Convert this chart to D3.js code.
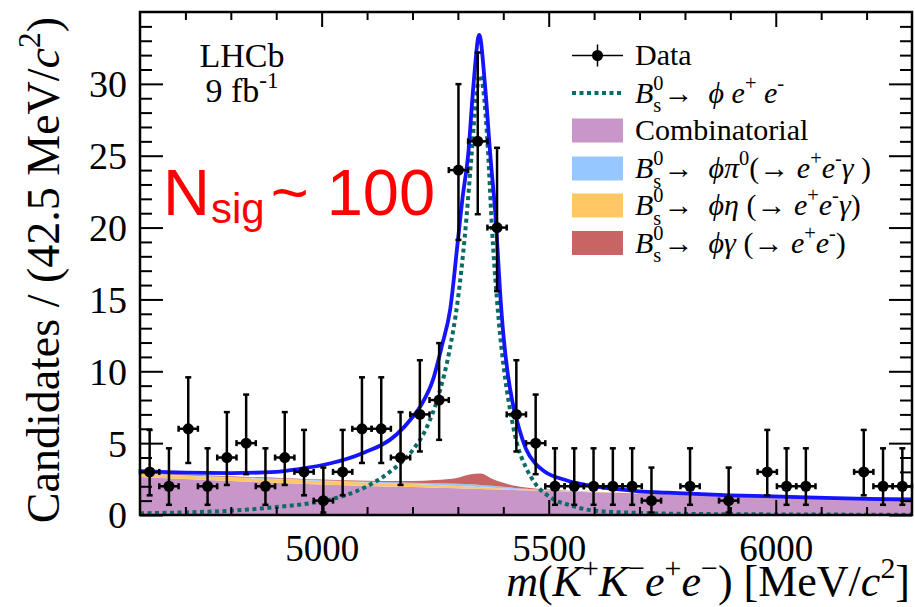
<!DOCTYPE html>
<html><head><meta charset="utf-8">
<script src="https://cdn.jsdelivr.net/npm/d3@7"></script>
<style>body{margin:0;background:#fff} svg{display:block}</style>
</head><body><svg id="c" width="915" height="607"></svg>
<script>
// ---------------- DATA ----------------
const massRange = [4600, 6300];
const binWidth = 42.5;
const yDomain = [0, 35];
const counts = [3,2,6,2,4,5,2,4,3,1, 3,6,6,4,7,8,24,26,20,7, 5,2,2,2,2,2,1,0,2,0, 1,0,3,2,2,0,0,3,2,2];
const errLo  = [1.63,1.29,2.38,1.29,1.91,2.16,1.29,1.91,1.63,0.83, 1.63,2.38,2.38,1.91,2.58,2.77,4.86,5.07,4.43,2.58, 2.16,1.29,1.29,1.29,1.29,1.29,0.83,0,1.29,0, 0.83,0,1.63,1.29,1.29,0,0,1.63,1.29,1.29];
const errHi  = [2.92,2.64,3.58,2.64,3.16,3.38,2.64,3.16,2.92,2.30, 2.92,3.58,3.58,3.16,3.77,3.96,5.98,6.18,5.55,3.77, 3.38,2.64,2.64,2.64,2.64,2.64,2.30,0,2.64,0, 2.30,0,2.92,2.64,2.64,0,0,2.92,2.64,2.64];

const xMajorTicks = [5000, 5500, 6000];
const xMinorTicks = [4700,4800,4900,5100,5200,5300,5400,5600,5700,5800,5900,6100,6200];
const yMajorTicks = [0, 5, 10, 15, 20, 25, 30];
const yMinorTicks = [1,2,3,4,6,7,8,9,11,12,13,14,16,17,18,19,21,22,23,24,26,27,28,29,31,32,33,34];

// signal (dotted) curve
const sigMass = [4600,4700,4800,4900,4980,5050,5100,5150,5200,5230,5260,5280,5300,5315,5330,5340,5348,5356,5366,5375,5386,5400,5415,5430,5450,5470,5500,5550,5600,5700,5800,6000,6300];
const sigVal  = [0.12,0.18,0.30,0.55,0.85,1.35,2.0,3.0,4.5,6.0,8.6,11.2,15.0,19.3,25.0,29.0,30.6,29.6,25.5,20.0,15.0,10.5,7.3,5.0,3.3,2.2,1.3,0.65,0.30,0.14,0.08,0.04,0.02];

// total fit (blue) curve
const totMass = [4600,4700,4800,4900,4950,5020,5090,5165,5200,5220,5245,5265,5283,5300,5310,5323,5334,5347,5360,5371,5384,5393,5400,5410,5420,5435,5450,5470,5490,5540,5610,5700,5760,5900,6050,6200,6300];
const totVal  = [3.05,2.95,2.92,3.0,3.2,3.6,4.3,5.6,6.8,7.7,9.4,11.8,14.3,19.1,22.0,25.2,29.8,33.4,29.8,25.2,20.3,15.5,12.6,9.8,7.9,6.0,4.6,3.6,3.05,2.4,1.95,1.65,1.55,1.37,1.25,1.12,1.08];

// stacked backgrounds
const bkgMass = [4600,4700,4800,4900,5000,5100,5150,5200,5250,5300,5325,5350,5375,5400,5425,5450,5500,5550,5600,5700,5800,5900,6000,6100,6200,6300];
const combVal = [2.65,2.50,2.37,2.24,2.12,2.02,1.98,1.94,1.90,1.86,1.84,1.81,1.79,1.77,1.74,1.72,1.67,1.62,1.57,1.49,1.41,1.33,1.26,1.18,1.11,1.05];
const etaVal  = [0.22,0.23,0.24,0.25,0.25,0.24,0.23,0.21,0.19,0.16,0.14,0.12,0.10,0.08,0.06,0.05,0.03,0.015,0.01,0,0,0,0,0,0,0];
const pi0Val  = [0.04,0.04,0.04,0.05,0.05,0.06,0.07,0.09,0.12,0.15,0.16,0.16,0.14,0.11,0.08,0.06,0.03,0.015,0.01,0,0,0,0,0,0,0];
const gamVal  = [0.04,0.04,0.04,0.05,0.05,0.07,0.09,0.13,0.22,0.42,0.68,0.80,0.50,0.28,0.16,0.09,0.04,0.02,0.01,0.005,0,0,0,0,0,0];

const legendLabels = [
  "Data",
  "*B*_{s}^{0}→  *ϕ* *e*^{+} *e*^{-}",
  "Combinatorial",
  "*B*_{s}^{0}→  *ϕπ*^{0}(→ *e*^{+}*e*^{-}*γ* )",
  "*B*_{s}^{0}→  *ϕη* (→ *e*^{+}*e*^{-}*γ*)",
  "*B*_{s}^{0}→  *ϕγ* (→ *e*^{+}*e*^{-})"
];
const xTitle = "*m*(*K*^{+}*K*^{−}*e*^{+}*e*^{−}) [MeV/*c*^{2}]";
const yTitle = "Candidates / (42.5 MeV/*c*^{2})";
const expLabel = ["LHCb", "9 fb^{-1}"];
const nsigLabel = ["N", "sig", "~ 100"];

// ---------------- DRAW ----------------
const svg = d3.select('#c');
const L = 140, R = 912, T = 12, B = 515;
const x = d3.scaleLinear().domain(massRange).range([L, R]);
const y = d3.scaleLinear().domain(yDomain).range([B, T]);
const serif = "'Liberation Serif','Times New Roman',Times,serif";
const sans = "'Liberation Sans',Arial,Helvetica,sans-serif";

const colComb = '#c896c8', colEta = '#ffc864', colPi0 = '#96c8ff', colGam = '#c86464';
const colSig = '#0b6b66', colTot = '#1414ff';

svg.append('defs').append('clipPath').attr('id','clip')
  .append('rect').attr('x',L).attr('y',T).attr('width',R-L).attr('height',B-T);

function parse(str){
  const segs=[]; let it=false, i=0, buf='';
  const flush=()=>{ if(buf){ segs.push({m:'n',t:buf,it}); buf=''; } };
  while(i<str.length){
    const ch=str[i];
    if(ch==='*'){ flush(); it=!it; i++; continue; }
    if((ch==='_'||ch==='^') && str[i+1]==='{'){
      flush();
      const j=str.indexOf('}',i); const c1=str.slice(i+2,j); i=j+1;
      const nx=str[i];
      if((nx==='_'||nx==='^') && nx!==ch && str[i+1]==='{'){
        const k=str.indexOf('}',i); const c2=str.slice(i+2,k); i=k+1;
        segs.push({m:'stack', sub: ch==='_'?c1:c2, sup: ch==='^'?c1:c2});
      } else segs.push({m: ch==='_'?'sub':'sup', t:c1});
      continue;
    }
    buf+=ch; i++;
  }
  flush(); return segs;
}
function rich(parent, str, x0, y0, size, family, anchor, color){
  const grp=parent.append('g');
  let cx=0;
  const put=(t,dy,fs,itl)=>{
    const el=grp.append('text').attr('x',cx).attr('y',dy)
      .attr('font-size',fs).attr('font-family',family)
      .attr('font-style',itl?'italic':'normal')
      .attr('fill',color||'#000')
      .attr('xml:space','preserve').style('white-space','pre').text(t);
    return el.node().getComputedTextLength();
  };
  parse(str).forEach(s=>{
    if(s.m==='n') cx+=put(s.t,0,size,s.it);
    else if(s.m==='sup') cx+=put(s.t,-0.42*size,0.68*size,false);
    else if(s.m==='sub') cx+=put(s.t,0.28*size,0.68*size,false);
    else { const a=put(s.sup,-0.42*size,0.68*size,false); const b=put(s.sub,0.32*size,0.68*size,false); cx+=Math.max(a,b); }
  });
  const sh = anchor==='end'?-cx:(anchor==='middle'?-cx/2:0);
  grp.attr('transform',`translate(${x0+sh},${y0})`);
  return cx;
}

// stacked background areas
const rows = bkgMass.map((m,i)=>({m, comb:combVal[i], eta:etaVal[i], pi0:pi0Val[i], gam:gamVal[i]}));
const stacked = d3.stack().keys(['comb','eta','pi0','gam'])(rows);
const fills = {comb:colComb, eta:colEta, pi0:colPi0, gam:colGam};
const area = d3.area().x(d=>x(d.data.m)).y0(d=>y(d[0])).y1(d=>y(d[1])).curve(d3.curveMonotoneX);
const plot = svg.append('g').attr('clip-path','url(#clip)');
plot.selectAll('path.bkg').data(stacked).join('path').attr('class','bkg')
  .attr('d',area).attr('fill',d=>fills[d.key]).attr('stroke','none');

// curves
const line = d3.line().x(d=>x(d[0])).y(d=>y(d[1])).curve(d3.curveMonotoneX);
plot.append('path').attr('d',line(sigMass.map((m,i)=>[m,sigVal[i]])))
  .attr('fill','none').attr('stroke',colSig).attr('stroke-width',4).attr('stroke-dasharray','4,3.5');
plot.append('path').attr('d',line(totMass.map((m,i)=>[m,totVal[i]])))
  .attr('fill','none').attr('stroke',colTot).attr('stroke-width',3.8);

// data points
const pts = counts.map((n,i)=>({n, lo:n-errLo[i], hi:n+errHi[i],
  c: massRange[0]+(i+0.5)*binWidth, a: massRange[0]+i*binWidth, b: massRange[0]+(i+1)*binWidth}))
  .filter(d=>d.n>0);
const dg = svg.append('g').attr('stroke','#000').attr('stroke-width',2.5);
pts.forEach(d=>{
  const cx=x(d.c), cy=y(d.n);
  dg.append('line').attr('x1',cx).attr('x2',cx).attr('y1',y(d.lo)).attr('y2',y(d.hi));
  dg.append('line').attr('x1',cx-3).attr('x2',cx+3).attr('y1',y(d.lo)).attr('y2',y(d.lo));
  dg.append('line').attr('x1',cx-3).attr('x2',cx+3).attr('y1',y(d.hi)).attr('y2',y(d.hi));
  dg.append('line').attr('x1',x(d.a)).attr('x2',x(d.b)).attr('y1',cy).attr('y2',cy);
  dg.append('line').attr('x1',x(d.a)).attr('x2',x(d.a)).attr('y1',cy-3).attr('y2',cy+3);
  dg.append('line').attr('x1',x(d.b)).attr('x2',x(d.b)).attr('y1',cy-3).attr('y2',cy+3);
  dg.append('circle').attr('cx',cx).attr('cy',cy).attr('r',5.5).attr('fill','#000').attr('stroke','none');
});

// axes (inward ticks on all sides)
function axis(gen, tr, ticks, size, labels){
  const g=svg.append('g').attr('transform',tr).call(gen.tickValues(ticks).tickSize(size).tickFormat(labels?d3.format('d'):''));
  g.select('.domain').remove();
  g.selectAll('.tick line').attr('stroke','#000').attr('stroke-width',2);
  return g;
}
const gxb = axis(d3.axisBottom(x), `translate(0,${B})`, xMajorTicks, -15, true);
axis(d3.axisBottom(x), `translate(0,${B})`, xMinorTicks, -8, false);
axis(d3.axisTop(x), `translate(0,${T})`, xMajorTicks, -15, false);
axis(d3.axisTop(x), `translate(0,${T})`, xMinorTicks, -8, false);
const gyl = axis(d3.axisLeft(y), `translate(${L},0)`, yMajorTicks, -23, true);
axis(d3.axisLeft(y), `translate(${L},0)`, yMinorTicks, -12, false);
axis(d3.axisRight(y), `translate(${R},0)`, yMajorTicks, -23, false);
axis(d3.axisRight(y), `translate(${R},0)`, yMinorTicks, -12, false);
gxb.selectAll('.tick text').attr('y',46).attr('dy',0).attr('font-size',37).attr('font-family',serif).attr('fill','#000');
gyl.selectAll('.tick text').attr('x',-13).attr('dy','0.34em').attr('font-size',38).attr('font-family',serif).attr('fill','#000');
svg.selectAll('.tick text').filter(function(){return this.textContent==='';}).remove();

// frame
svg.append('rect').attr('x',L).attr('y',T).attr('width',R-L).attr('height',B-T)
  .attr('fill','none').attr('stroke','#000').attr('stroke-width',2.5);

// titles
rich(svg, xTitle, 910, 596, 44, serif, 'end');
const gyt = svg.append('g').attr('transform','translate(59,17) rotate(-90)');
rich(gyt, yTitle, 0, 0, 46, serif, 'end');

// LHCb label
rich(svg, expLabel[0], 242, 67, 34, serif, 'middle');
rich(svg, expLabel[1], 242, 102, 34, serif, 'middle');

// N_sig annotation
(function(){
  const g=svg.append('g');
  let xx=163;
  const t1=g.append('text').attr('x',xx).attr('y',215).attr('font-size',65).attr('font-family',sans).attr('fill','#ff0000').text(nsigLabel[0]);
  xx+=t1.node().getComputedTextLength();
  const t2=g.append('text').attr('x',xx+1).attr('y',223).attr('font-size',42).attr('font-family',sans).attr('fill','#ff0000').text(nsigLabel[1]);
  xx+=t2.node().getComputedTextLength()+7;
  g.append('text').attr('x',xx).attr('y',215).attr('font-size',65).attr('font-family',sans).attr('fill','#ff0000')
    .attr('xml:space','preserve').style('white-space','pre').text(nsigLabel[2]);
})();

// legend
const lx0=572, lx1=623, ltx=635, lbase=[65,102.5,140,178,215,252.5];
const lg = svg.append('g');
legendLabels.forEach((lab,i)=>{
  const cy=lbase[i]-9.5;
  if(i===0){
    lg.append('line').attr('x1',lx0).attr('x2',lx1).attr('y1',cy).attr('y2',cy).attr('stroke','#000').attr('stroke-width',1.5);
    lg.append('line').attr('x1',(lx0+lx1)/2).attr('x2',(lx0+lx1)/2).attr('y1',cy-11).attr('y2',cy+11).attr('stroke','#000').attr('stroke-width',1.5);
    lg.append('circle').attr('cx',(lx0+lx1)/2).attr('cy',cy).attr('r',5.5).attr('fill','#000');
  } else if(i===1){
    lg.append('line').attr('x1',lx0).attr('x2',lx1).attr('y1',cy).attr('y2',cy).attr('stroke',colSig).attr('stroke-width',4).attr('stroke-dasharray','4,3.5');
  } else {
    const c=[null,null,colComb,colPi0,colEta,colGam][i];
    lg.append('rect').attr('x',lx0).attr('y',cy-12).attr('width',lx1-lx0).attr('height',24).attr('fill',c);
  }
  rich(lg, lab, ltx, lbase[i], 30, serif, 'start');
});
</script></body></html>
